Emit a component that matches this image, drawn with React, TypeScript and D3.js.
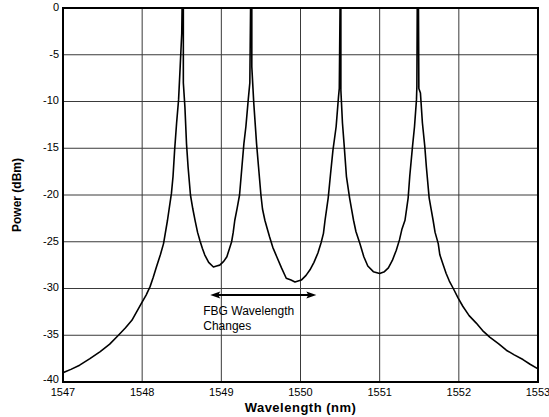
import React from "react";
import * as d3 from "d3";

const wavelengths: number[] = [
  1547.0, 1547.1, 1547.21, 1547.34, 1547.47, 1547.59, 1547.7, 1547.79, 1547.87, 1547.93, 1547.99, 1548.05, 1548.1, 1548.14, 1548.18, 1548.23, 1548.27, 1548.32, 1548.37,
  1548.39, 1548.41, 1548.435, 1548.46, 1548.48, 1548.5, 1548.505,
  1548.52, 1548.52, 1548.54, 1548.56, 1548.58, 1548.61,
  1548.64, 1548.67, 1548.7, 1548.73, 1548.76, 1548.79, 1548.84, 1548.9, 1548.94, 1548.98, 1549.03, 1549.07, 1549.1, 1549.13, 1549.15, 1549.17, 1549.2,
  1549.23, 1549.26, 1549.285, 1549.31, 1549.34, 1549.36, 1549.37,
  1549.385, 1549.385, 1549.41, 1549.445, 1549.47, 1549.5,
  1549.52, 1549.55, 1549.58, 1549.61, 1549.65, 1549.7, 1549.76, 1549.82, 1549.88, 1549.93, 1549.97, 1550.01, 1550.07, 1550.12, 1550.17, 1550.22, 1550.26, 1550.29, 1550.31, 1550.33,
  1550.35, 1550.38, 1550.41, 1550.45, 1550.48, 1550.49, 1550.5,
  1550.51, 1550.51, 1550.53, 1550.55, 1550.58, 1550.62,
  1550.645, 1550.67, 1550.7, 1550.75, 1550.8, 1550.85, 1550.92, 1551.0, 1551.06, 1551.11, 1551.16, 1551.21, 1551.25, 1551.28, 1551.32, 1551.34,
  1551.36, 1551.38, 1551.415, 1551.44, 1551.465, 1551.47, 1551.475,
  1551.49, 1551.495, 1551.515, 1551.54, 1551.57, 1551.59, 1551.625,
  1551.65, 1551.675, 1551.7, 1551.74, 1551.76, 1551.8, 1551.84, 1551.88, 1551.93, 1551.99, 1552.05, 1552.13, 1552.22, 1552.3, 1552.39, 1552.5, 1552.6, 1552.7, 1552.81, 1552.9, 1553.0,
];

const powers: number[] = [
  -39.0, -38.65, -38.2, -37.5, -36.75, -35.95, -35.0, -34.2, -33.4, -32.5, -31.6, -30.7, -29.8, -28.8, -27.7, -26.4, -25.2, -22.7, -19.8,
  -18.0, -15.2, -12.3, -9.8, -6.3, -2.7, 0.5,
  0.5, -8.0, -10.6, -14.5, -17.0, -20.0,
  -21.5, -22.8, -24.0, -24.9, -25.7, -26.4, -27.2, -27.7, -27.6, -27.5, -27.1, -26.6, -25.8, -25.0, -24.0, -22.7, -21.4,
  -20.0, -17.0, -14.5, -12.7, -9.8, -8.0, 0.5,
  0.5, -6.3, -10.2, -14.5, -17.0, -20.0,
  -21.5, -22.7, -23.6, -24.5, -25.6, -26.6, -27.8, -28.9, -29.1, -29.3, -29.2, -29.1, -28.6, -28.0, -27.2, -26.2, -25.1, -24.1, -22.7, -21.5,
  -20.3, -17.7, -15.2, -12.7, -9.5, -8.6, 0.5,
  0.5, -8.8, -12.3, -14.5, -18.0, -20.3,
  -21.5, -22.7, -23.9, -25.2, -26.6, -27.6, -28.2, -28.4, -28.2, -27.8, -27.0, -25.9, -24.8, -23.7, -22.7, -21.5,
  -20.3, -18.0, -14.8, -12.7, -9.8, -8.4, 0.5,
  0.5, -8.6, -9.1, -12.3, -14.8, -17.0, -20.3,
  -21.5, -22.7, -24.0, -25.2, -26.4, -27.4, -28.4, -29.2, -30.0, -31.0, -31.9, -32.9, -33.7, -34.5, -35.2, -35.9, -36.6, -37.1, -37.6, -38.1, -38.6,
];

const xTicks: number[] = [1547, 1548, 1549, 1550, 1551, 1552, 1553];
const yTicks: number[] = [0, -5, -10, -15, -20, -25, -30, -35, -40];
const annotationLines: string[] = ["FBG Wavelength", "Changes"];
const arrowRange: number[] = [1548.86, 1550.2];
const arrowLevel = -30.7;

const W = 549;
const H = 417;
const M = { left: 63, right: 11, top: 8, bottom: 35 };
const FONT = "'Liberation Sans', Arial, sans-serif";

export default function App() {
  const x = d3.scaleLinear().domain([1547, 1553]).range([M.left, W - M.right]);
  const y = d3.scaleLinear().domain([-40, 0]).range([H - M.bottom, M.top]);
  const pts: [number, number][] = wavelengths.map((w, i) => [w, powers[i]]);
  const line = d3
    .line<[number, number]>()
    .x((d) => x(d[0]))
    .y((d) => y(d[1]));
  const ax0 = x(arrowRange[0]);
  const ax1 = x(arrowRange[1]);
  const ay = y(arrowLevel);
  return (
    <svg
      width={W}
      height={H}
      style={{ position: "absolute", left: 0, top: 0, background: "#fff" }}
    >
      <defs>
        <clipPath id="plot">
          <rect x={M.left} y={M.top} width={W - M.left - M.right} height={H - M.top - M.bottom} />
        </clipPath>
      </defs>
      {xTicks.slice(1, -1).map((t) => (
        <line key={"gx" + t} x1={x(t)} x2={x(t)} y1={y(0)} y2={y(-40)} stroke="#3a3a3a" strokeWidth={1} />
      ))}
      {yTicks.slice(1, -1).map((t) => (
        <line key={"gy" + t} x1={x(1547)} x2={x(1553)} y1={y(t)} y2={y(t)} stroke="#3a3a3a" strokeWidth={1} />
      ))}
      <path d={line(pts) || ""} fill="none" stroke="#000" strokeWidth={1.6} strokeLinejoin="round" clipPath="url(#plot)" />
      <rect
        x={x(1547)}
        y={y(0)}
        width={x(1553) - x(1547)}
        height={y(-40) - y(0)}
        fill="none"
        stroke="#000"
        strokeWidth={2}
      />
      {yTicks.map((t) => (
        <text
          key={"yt" + t}
          x={M.left - 4}
          y={t === -40 ? y(t) - 2 : y(t)}
          textAnchor="end"
          dominantBaseline="middle"
          fontFamily={FONT}
          fontSize={11}
          fill="#000"
        >
          {t}
        </text>
      ))}
      {xTicks.map((t) => (
        <text
          key={"xt" + t}
          x={x(t)}
          y={y(-40) + 14}
          textAnchor="middle"
          fontFamily={FONT}
          fontSize={11}
          fill="#000"
        >
          {t}
        </text>
      ))}
      <text
        x={(x(1547) + x(1553)) / 2}
        y={H - 5}
        textAnchor="middle"
        fontFamily={FONT}
        fontSize={13}
        letterSpacing={0.5}
        fontWeight="bold"
      >
        Wavelength (nm)
      </text>
      <text
        transform={`translate(21,${(y(0) + y(-40)) / 2}) rotate(-90)`}
        textAnchor="middle"
        fontFamily={FONT}
        fontSize={12}
        fontWeight="bold"
      >
        Power (dBm)
      </text>
      <line x1={ax0 + 6} x2={ax1 - 6} y1={ay} y2={ay} stroke="#000" strokeWidth={2} />
      <path d={`M${ax0},${ay} L${ax0 + 10},${ay - 3.5} L${ax0 + 8},${ay} L${ax0 + 10},${ay + 3.5} Z`} fill="#000" />
      <path d={`M${ax1},${ay} L${ax1 - 10},${ay - 3.5} L${ax1 - 8},${ay} L${ax1 - 10},${ay + 3.5} Z`} fill="#000" />
      {annotationLines.map((s, i) => (
        <text key={s} x={ax0 - 7} y={ay + 20 + i * 15} fontFamily={FONT} fontSize={12} fill="#000">
          {s}
        </text>
      ))}
    </svg>
  );
}
